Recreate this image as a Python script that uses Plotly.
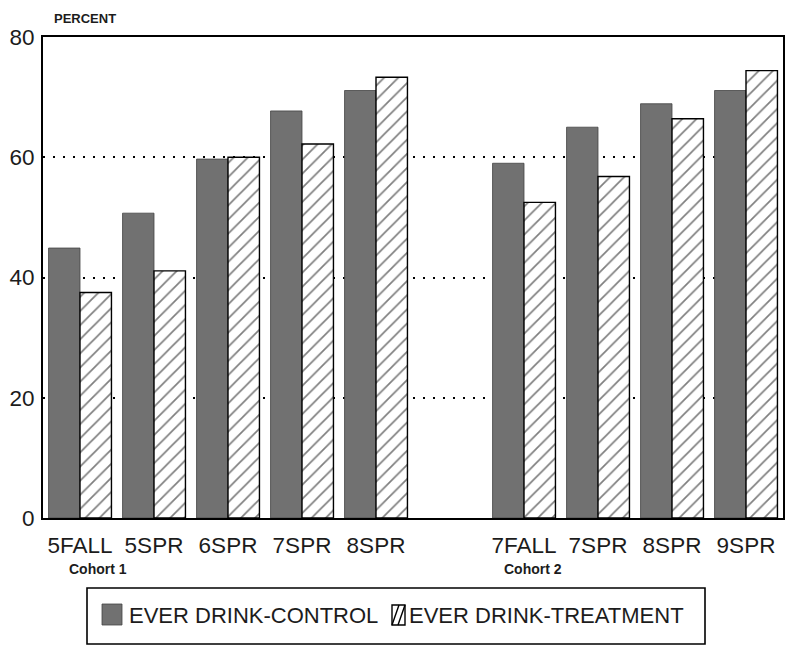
import plotly.graph_objects as go

# ---- data ----
cohort1_labels = ["5FALL", "5SPR", "6SPR", "7SPR", "8SPR"]
cohort2_labels = ["7FALL", "7SPR", "8SPR", "9SPR"]
cohort1_control = [44.9, 50.7, 59.7, 67.7, 71.1]
cohort1_treatment = [37.5, 41.1, 60.0, 62.2, 73.3]
cohort2_control = [59.0, 65.0, 68.9, 71.1]
cohort2_treatment = [52.5, 56.8, 66.4, 74.4]
series_names = ["EVER DRINK-CONTROL", "EVER DRINK-TREATMENT"]
cohort_names = ["Cohort 1", "Cohort 2"]
y_ticks = [0, 20, 40, 60, 80]

# category slots: cohort 1, one empty slot, cohort 2
labels = cohort1_labels + [""] + cohort2_labels
slots = list(range(len(labels)))
control = cohort1_control + [None] + cohort2_control
treatment = cohort1_treatment + [None] + cohort2_treatment

ARIAL = "Liberation Sans, Arial, sans-serif"
INK = "#1c1c1c"
DARK = "#717171"

# page body has an 8px margin; figure sized to fit the window
OFF = 8
W, H = 786, 647
L, T = 35, 29
PW, PH = 740, 481
R, B = W - L - PW, H - T - PH


def px(xp):
    return (xp - OFF - L) / PW


def py(yp):
    return (OFF + T + PH - yp) / PH


fig = go.Figure()
fig.add_trace(go.Bar(
    x=slots, y=control, name=series_names[0],
    marker=dict(color=DARK, line=dict(color="#444", width=0.8)),
))
fig.add_trace(go.Bar(
    x=slots, y=treatment, name=series_names[1],
    marker=dict(color="white", line=dict(color="black", width=1.4),
                pattern=dict(shape="/", fgcolor="black", bgcolor="white",
                             size=10, solidity=0.17)),
))

fig.update_layout(
    width=W, height=H,
    margin=dict(l=L, r=R, t=T, b=B, autoexpand=False),
    paper_bgcolor="white", plot_bgcolor="white",
    barmode="group", bargap=0.15, bargroupgap=0,
    font=dict(family=ARIAL, color=INK),
    showlegend=False,
)
fig.update_xaxes(
    range=[-0.5, len(labels) - 0.5], automargin=False,
    tickmode="array", tickvals=slots, ticktext=labels,
    tickfont=dict(family=ARIAL, size=22.5, color=INK), ticks="", ticklabelstandoff=6,
    showgrid=False, zeroline=False,
    showline=True, linecolor="black", linewidth=1.6, mirror=True,
)
fig.update_yaxes(
    range=[0, 80], tickmode="array", tickvals=y_ticks, automargin=False,
    tickfont=dict(family=ARIAL, size=22.5, color=INK), ticks="", ticklabelstandoff=2,
    showgrid=True, gridcolor="black", gridwidth=1.6, griddash="2px,8px",
    zeroline=False,
    showline=True, linecolor="black", linewidth=2, mirror=True,
)

# axis title and cohort labels
fig.add_annotation(text="<b>PERCENT</b>", xref="paper", yref="paper",
                   x=px(85), y=py(9), xanchor="center", yanchor="top",
                   showarrow=False, font=dict(size=13, color=INK))
fig.add_annotation(text="<b>%s</b>" % cohort_names[0], xref="paper", yref="paper",
                   x=px(98), y=py(569), xanchor="center", yanchor="middle",
                   showarrow=False, font=dict(size=14, color=INK))
fig.add_annotation(text="<b>%s</b>" % cohort_names[1], xref="paper", yref="paper",
                   x=px(533), y=py(569), xanchor="center", yanchor="middle",
                   showarrow=False, font=dict(size=14, color=INK))

# legend box drawn in pixel layout
shapes = [
    dict(type="rect", xref="paper", yref="paper", x0=px(87), x1=px(705), y0=py(588), y1=py(644),
         line=dict(color="black", width=1.6), fillcolor="white"),
    dict(type="rect", xref="paper", yref="paper", x0=px(102), x1=px(122), y0=py(604), y1=py(625),
         line=dict(color="#444", width=0.8), fillcolor=DARK),
    dict(type="rect", xref="paper", yref="paper", x0=px(392), x1=px(405), y0=py(605), y1=py(625),
         line=dict(color="black", width=1.4), fillcolor="white"),
    dict(type="line", xref="paper", yref="paper", x0=px(392), x1=px(399), y0=py(625), y1=py(605),
         line=dict(color="black", width=1.4)),
    dict(type="line", xref="paper", yref="paper", x0=px(398), x1=px(405), y0=py(625), y1=py(605),
         line=dict(color="black", width=1.4)),
]
fig.update_layout(shapes=shapes)
fig.add_annotation(text=series_names[0], xref="paper", yref="paper",
                   x=px(127), y=py(615), xanchor="left", yanchor="middle",
                   showarrow=False, font=dict(family=ARIAL, size=22, color=INK))
fig.add_annotation(text=series_names[1], xref="paper", yref="paper",
                   x=px(407), y=py(615), xanchor="left", yanchor="middle",
                   showarrow=False, font=dict(family=ARIAL, size=22, color=INK))

fig.write_html("out.html")
